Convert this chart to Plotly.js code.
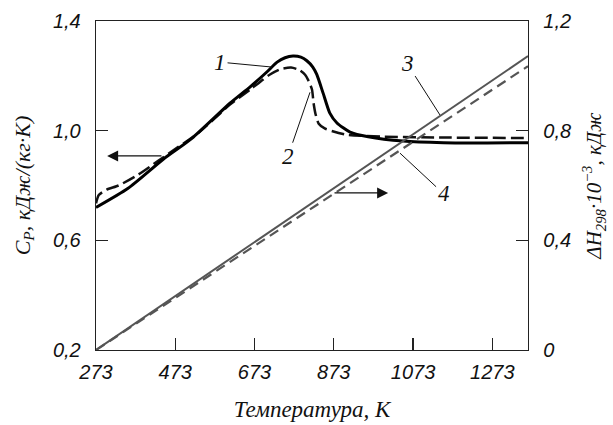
<!DOCTYPE html>
<html>
<head>
<meta charset="utf-8">
<script src="https://cdn.plot.ly/plotly-3.0.1.min.js"></script>
<style>html,body{margin:0;padding:0;background:#fff;}#chart{width:613px;height:425px;}</style>
</head>
<body>
<div id="chart"></div>
<script>
// Curve 1: Cp (solid)
const cp1T = [273, 354, 442, 515, 611, 662, 704, 730, 750, 770, 790, 805, 820, 830, 846, 863, 881, 914, 960, 1048, 1150, 1260, 1363];
const cp1V = [0.72, 0.79, 0.895, 0.972, 1.10, 1.16, 1.214, 1.25, 1.266, 1.272, 1.268, 1.255, 1.232, 1.205, 1.137, 1.064, 1.028, 0.995, 0.978, 0.962, 0.956, 0.955, 0.956];
// Curve 2: Cp (dashed)
const cp2T = [273, 280, 300, 330, 380, 430, 480, 530, 611, 662, 712, 740, 765, 785, 800, 810, 818, 822, 827, 835, 850, 870, 906, 1000, 1150, 1363];
const cp2V = [0.735, 0.765, 0.785, 0.80, 0.84, 0.89, 0.94, 0.99, 1.095, 1.15, 1.205, 1.225, 1.23, 1.222, 1.205, 1.18, 1.15, 1.10, 1.06, 1.025, 1.008, 0.998, 0.985, 0.978, 0.975, 0.973];
// Curve 3: ΔH (solid gray), Curve 4: ΔH (dashed gray)
const dhT = [273, 473, 673, 873, 1073, 1273, 1363];
const dh3V = [0, 0.197, 0.393, 0.59, 0.787, 0.983, 1.072];
const dh4V = [0, 0.19, 0.38, 0.57, 0.76, 0.95, 1.035];
// Ticks
const xTicks = [273, 473, 673, 873, 1073, 1273];
const yTicks = [0.2, 0.6, 1.0, 1.4];
const yTickText = ['0,2', '0,6', '1,0', '1,4'];
const y2Ticks = [0, 0.4, 0.8, 1.2];
const y2TickText = ['0', '0,4', '0,8', '1,2'];

const gray = '#555555';
const traces = [
  {x: dhT, y: dh3V, yaxis: 'y2', mode: 'lines', line: {color: gray, width: 2}, hoverinfo: 'skip'},
  {x: dhT, y: dh4V, yaxis: 'y2', mode: 'lines', line: {color: gray, width: 2.2, dash: '10px,6px'}, hoverinfo: 'skip'},
  {x: cp2T, y: cp2V, mode: 'lines', line: {color: '#111', width: 2.5, dash: '13px,5px', shape: 'spline', smoothing: 0.6}, hoverinfo: 'skip'},
  {x: cp1T, y: cp1V, mode: 'lines', line: {color: '#000', width: 3, shape: 'spline', smoothing: 0.6}, hoverinfo: 'skip'}
];

const tickFont = {family: 'Liberation Sans, Arial, sans-serif', size: 20, color: '#111', style: 'italic'};
const xTitleFont = {family: 'Liberation Serif, Times New Roman, serif', size: 23, color: '#111', style: 'italic'};
const yTitleFont = {family: 'Liberation Serif, Times New Roman, serif', size: 22, color: '#111', style: 'italic'};
const y2TitleFont = {family: 'Liberation Serif, Times New Roman, serif', size: 21, color: '#111', style: 'italic'};
const lblFont = {family: 'Liberation Serif, Times New Roman, serif', size: 23, color: '#111', style: 'italic'};

function leader(txt, tx, ty, px, py) {
  return {text: txt, x: px, y: py, xref: 'x', yref: 'y', ax: tx, ay: ty, axref: 'x', ayref: 'y',
    showarrow: true, arrowhead: 0, arrowwidth: 1, arrowcolor: '#111', font: lblFont, standoff: 0, startstandoff: 0};
}
function arrow(hx, hy, tx, ty) {
  return {text: '', x: hx, y: hy, xref: 'x', yref: 'y', ax: tx, ay: ty, axref: 'x', ayref: 'y',
    showarrow: true, arrowhead: 2, arrowsize: 2, arrowwidth: 1.1, arrowcolor: '#111'};
}

const layout = {
  width: 613, height: 425,
  margin: {l: 96, r: 85, t: 21, b: 75},
  paper_bgcolor: '#fff', plot_bgcolor: '#fff',
  showlegend: false,
  separators: ',.',
  xaxis: {
    range: [273, 1363], tickvals: xTicks, ticktext: xTicks.map(String),
    ticks: 'inside', ticklen: 12, tickwidth: 1.2, tickcolor: '#222',
    showline: true, linecolor: '#222', linewidth: 1.3, mirror: true,
    showgrid: false, zeroline: false, tickfont: tickFont, ticklabelstandoff: 4,
    title: {text: 'Температура, К', font: xTitleFont, standoff: 18}
  },
  yaxis: {
    range: [0.2, 1.4], tickvals: yTicks, ticktext: yTickText,
    ticks: 'inside', ticklen: 12, tickwidth: 1.2, tickcolor: '#222',
    showline: true, linecolor: '#222', linewidth: 1.3,
    showgrid: false, zeroline: false, tickfont: tickFont, ticklabelstandoff: 10,
    title: {text: 'C<sub>P</sub>, кДж/(кг·K)', font: yTitleFont, standoff: 16}
  },
  yaxis2: {
    range: [0, 1.2], tickvals: y2Ticks, ticktext: y2TickText,
    overlaying: 'y', side: 'right',
    ticks: 'inside', ticklen: 12, tickwidth: 1.2, tickcolor: '#222',
    showline: true, linecolor: '#222', linewidth: 1.3,
    showgrid: false, zeroline: false, tickfont: tickFont, ticklabelstandoff: 10,
    title: {text: 'ΔH<sub>298</sub>·10<sup>−3</sup>, кДж', font: y2TitleFont, standoff: 16}
  },
  annotations: [
    leader('1', 586, 1.25, 717, 1.232),
    leader('2', 757, 0.905, 813, 1.14),
    leader('3', 1058, 1.245, 1141, 1.057),
    leader('4', 1150, 0.77, 1040, 0.918),
    arrow(301, 0.908, 442, 0.908),
    arrow(1010, 0.773, 871, 0.773)
  ]
};

Plotly.newPlot('chart', traces, layout, {staticPlot: true, displayModeBar: false});
</script>
</body>
</html>
